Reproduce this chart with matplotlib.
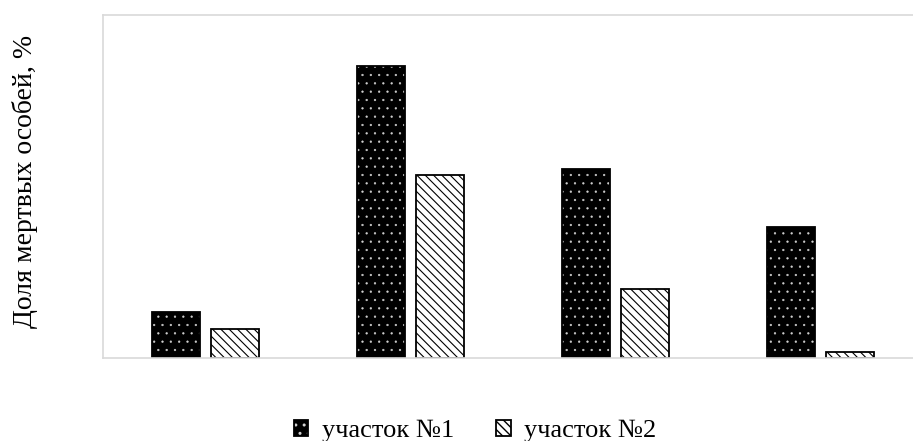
import matplotlib.pyplot as plt
import numpy as np

plt.rcParams['font.family'] = ['Liberation Serif', 'DejaVu Serif']

# data (axis runs 0..60)
groups = ['1', '2', '3', '4']
plot1 = [8.0, 51.0, 33.0, 23.0]
plot2 = [5.0, 32.0, 12.0, 1.0]
series_names = ['участок №1', 'участок №2']

fig = plt.figure(figsize=(9.13, 4.41), dpi=100)
ax = fig.add_axes([103 / 913, 83 / 441, 820 / 913, 343 / 441])

x = np.arange(len(groups))
w = 0.23
off = 0.144

# series 1: black with light dots (hatch drawn in light grey, then black outline on top)
b1_fill = ax.bar(x - off, plot1, w, color='black', edgecolor='#d0d0d0',
                 hatch='..', linewidth=0)
b1_edge = ax.bar(x - off, plot1, w, fill=False, edgecolor='black', linewidth=1.3)
# series 2: white with diagonal lines
b2 = ax.bar(x + off, plot2, w, color='white', edgecolor='black',
            hatch='\\\\\\\\', linewidth=1.3)

for p in b1_fill:
    if hasattr(p, 'set_hatch_linewidth'):
        p.set_hatch_linewidth(0.4)
for p in b2:
    if hasattr(p, 'set_hatch_linewidth'):
        p.set_hatch_linewidth(0.8)

ax.set_xlim(-0.5, len(groups) - 0.5)
ax.set_ylim(0, 60)
ax.set_xticks([])
ax.set_yticks([])
for s in ax.spines.values():
    s.set_color('#d9d9d9')
    s.set_linewidth(1.2)

fig.text(25 / 913, 1 - 181 / 441, 'Доля мертвых особей, %', rotation=90,
         ha='center', va='center', fontsize=20)

fig.legend([(b1_fill, b1_edge), b2], series_names, loc='center',
           bbox_to_anchor=(475 / 913, 1 - 431 / 441), ncol=2, frameon=False,
           fontsize=19, handlelength=0.55, handleheight=0.55,
           handletextpad=0.5, columnspacing=1.6, borderpad=0)

fig.savefig('out.png', dpi=100)
